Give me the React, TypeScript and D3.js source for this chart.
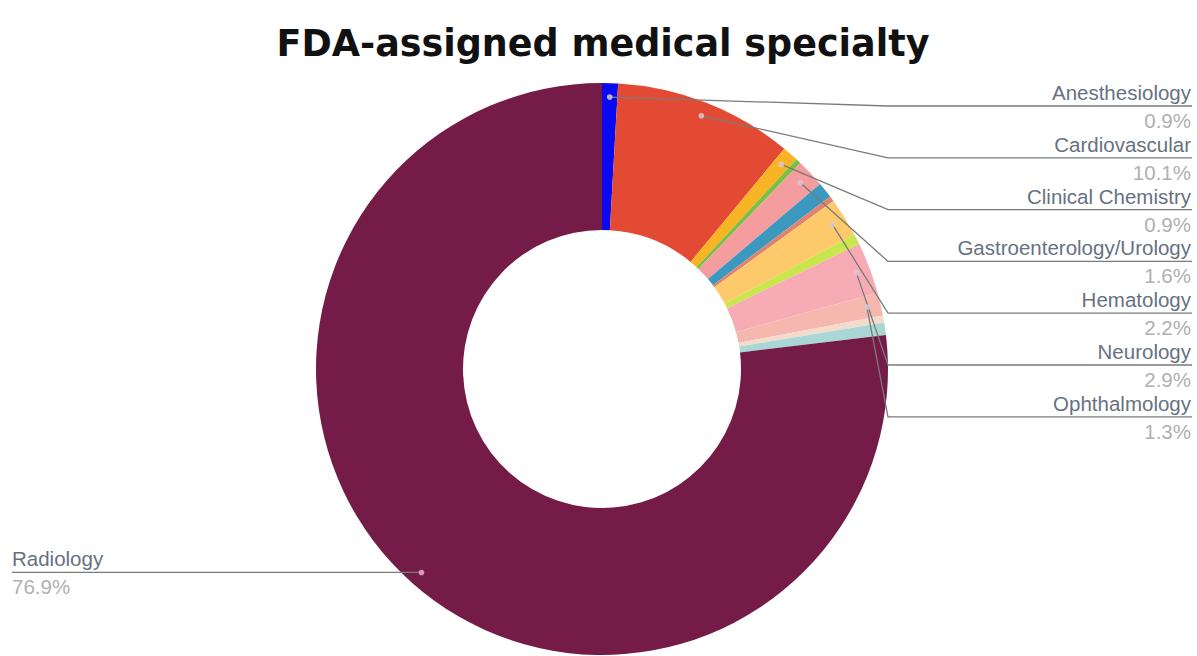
import React from "react";
import * as d3 from "d3";

const specialties = [
  "Anesthesiology",
  "Cardiovascular",
  "Clinical Chemistry",
  "Dental",
  "Gastroenterology/Urology",
  "General and Plastic Surgery",
  "General Hospital",
  "Hematology",
  "Microbiology",
  "Neurology",
  "Ophthalmology",
  "Orthopedic",
  "Pathology",
  "Radiology",
];
const shares = [0.9, 10.1, 0.9, 0.3, 1.6, 0.9, 0.3, 2.2, 0.6, 2.9, 1.3, 0.4, 0.7, 76.9];
const sliceColors = [
  "#0a0af0",
  "#e34a33",
  "#f8b424",
  "#79c043",
  "#f49c9e",
  "#3b98bf",
  "#e0836d",
  "#fdc96a",
  "#c9e64c",
  "#f7acb5",
  "#f5b7ae",
  "#f3dccb",
  "#a9d7d6",
  "#741b47",
];
const labelledRight = [
  "Anesthesiology",
  "Cardiovascular",
  "Clinical Chemistry",
  "Gastroenterology/Urology",
  "Hematology",
  "Neurology",
  "Ophthalmology",
];
const labelledLeft = ["Radiology"];

const W = 1197;
const H = 656;
const cx = 602;
const cy = 369;
const outerR = 286;
const innerR = 139;
const dotR = 272;
const labelFont = "Liberation Sans, Arial";
const labelSize = 20.5;

export default function App() {
  const data = specialties.map((name, i) => ({ name, value: shares[i], color: sliceColors[i] }));
  const pie = d3
    .pie<{ name: string; value: number; color: string }>()
    .value((d) => d.value)
    .sort(null);
  const arcs = pie(data);
  const arcGen = d3
    .arc<d3.PieArcDatum<{ name: string; value: number; color: string }>>()
    .innerRadius(innerR)
    .outerRadius(outerR);

  const dotPos = (a: d3.PieArcDatum<any>) => {
    const m = (a.startAngle + a.endAngle) / 2;
    return [cx + dotR * Math.sin(m), cy - dotR * Math.cos(m)];
  };

  const rightYScale = d3
    .scalePoint<string>()
    .domain(labelledRight)
    .range([106, 106 + 51.8 * (labelledRight.length - 1)]);

  const fmt = (v: number) => v.toFixed(1) + "%";

  return (
    <svg
      width={W}
      height={H}
      style={{ position: "absolute", left: 0, top: 0, background: "#fff" }}
    >
      <text
        x={603}
        y={56}
        textAnchor="middle"
        fontFamily="DejaVu Sans"
        fontWeight="bold"
        fontSize={36.5}
        fill="#111"
      >
        FDA-assigned medical specialty
      </text>
      <g transform={`translate(${cx},${cy})`}>
        {arcs.map((a) => (
          <path key={a.data.name} d={arcGen(a) || ""} fill={a.data.color} />
        ))}
      </g>
      {arcs
        .filter((a) => labelledRight.includes(a.data.name))
        .map((a) => {
          const [dx, dy] = dotPos(a);
          const ly = rightYScale(a.data.name) as number;
          return (
            <g key={"lbl-" + a.data.name}>
              <polyline
                points={`${dx},${dy} 888,${ly} 1192,${ly}`}
                fill="none"
                stroke="#7a7a7a"
                strokeWidth={1.3}
              />
              <circle cx={dx} cy={dy} r={2.8} fill="#d8c8d0" fillOpacity={0.85} />
              <text
                x={1191}
                y={ly - 6}
                textAnchor="end"
                fontFamily={labelFont}
                fontSize={labelSize}
                fill="#66727f"
              >
                {a.data.name}
              </text>
              <text
                x={1191}
                y={ly + 22}
                textAnchor="end"
                fontFamily={labelFont}
                fontSize={labelSize}
                fill="#b0b0b0"
              >
                {fmt(a.data.value)}
              </text>
            </g>
          );
        })}
      {arcs
        .filter((a) => labelledLeft.includes(a.data.name))
        .map((a) => {
          const [dx, dy] = dotPos(a);
          return (
            <g key={"lbl-" + a.data.name}>
              <line x1={12} y1={dy} x2={dx} y2={dy} stroke="#7a7a7a" strokeWidth={1.3} />
              <circle cx={dx} cy={dy} r={2.8} fill="#d8a8c0" fillOpacity={0.9} />
              <text x={12} y={dy - 6} fontFamily={labelFont} fontSize={labelSize} fill="#66727f">
                {a.data.name}
              </text>
              <text x={12} y={dy + 22} fontFamily={labelFont} fontSize={labelSize} fill="#b0b0b0">
                {fmt(a.data.value)}
              </text>
            </g>
          );
        })}
    </svg>
  );
}
